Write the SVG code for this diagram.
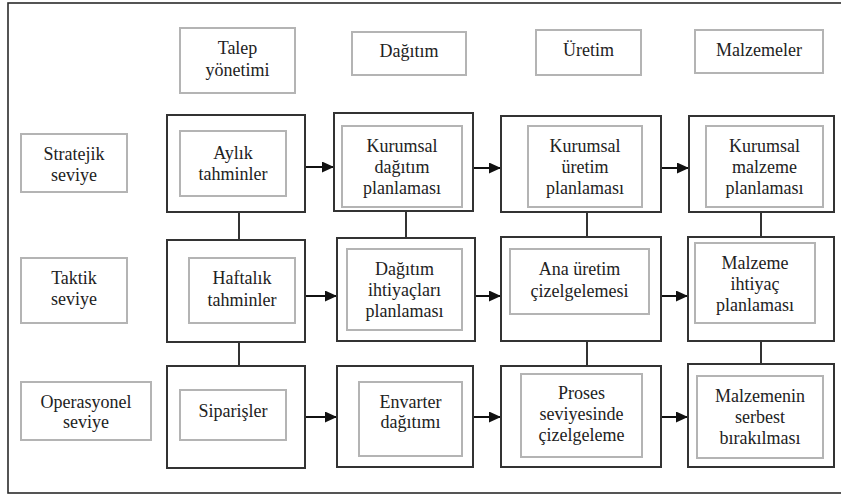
<svg xmlns="http://www.w3.org/2000/svg" width="841" height="496" viewBox="0 0 841 496">
  <style>
    .frame { fill: none; stroke: #2b2b2b; stroke-width: 1.6; }
    .outer { fill: #fff; stroke: #333; stroke-width: 2; }
    .inner { fill: #fff; stroke: #b4b4b4; stroke-width: 2; }
    .label { fill: #fff; stroke: #b4b4b4; stroke-width: 2; }
    .t { font-family: "Liberation Serif", "Times New Roman", "DejaVu Serif", serif; font-size: 18px; fill: #222; text-anchor: middle; }
    .link { stroke: #333; stroke-width: 2; fill: none; }
    .flow { stroke: #111; stroke-width: 2; fill: none; marker-end: url(#head); }
  </style>
  <defs>
    <marker id="head" viewBox="0 0 12 11" refX="12" refY="5.5" markerWidth="12" markerHeight="11" markerUnits="userSpaceOnUse" orient="auto">
      <path d="M0,0 L12,5.5 L0,11 Z" fill="#111"/>
    </marker>
  </defs>

  <rect width="841" height="496" fill="#fff"/>
  <!-- surrounding frame, open to the right -->
  <rect class="frame" x="8" y="3" width="860" height="490"/>

  <!-- column headers -->
  <g id="hdr-talep" class="t" font-family="Liberation Serif, serif">
    <rect class="label" x="180" y="28" width="115" height="65"/>
    <text x="237.5" y="54">Talep</text>
    <text x="237.5" y="76">yönetimi</text>
  </g>
  <g id="hdr-dagitim" class="t" font-family="Liberation Serif, serif">
    <rect class="label" x="352" y="32" width="114" height="43"/>
    <text x="409" y="57">Dağıtım</text>
  </g>
  <g id="hdr-uretim" class="t" font-family="Liberation Serif, serif">
    <rect class="label" x="536" y="30" width="105" height="45"/>
    <text x="588.5" y="56">Üretim</text>
  </g>
  <g id="hdr-malzeme" class="t" font-family="Liberation Serif, serif">
    <rect class="label" x="695" y="30" width="128" height="43"/>
    <text x="759" y="56">Malzemeler</text>
  </g>

  <!-- row headers -->
  <g id="lvl-stratejik" class="t">
    <rect class="label" x="21" y="134" width="106" height="58"/>
    <text x="74" y="160">Stratejik</text>
    <text x="74" y="181">seviye</text>
  </g>
  <g id="lvl-taktik" class="t">
    <rect class="label" x="21" y="258" width="106" height="65"/>
    <text x="74" y="284">Taktik</text>
    <text x="74" y="305">seviye</text>
  </g>
  <g id="lvl-operasyonel" class="t">
    <rect class="label" x="21" y="382" width="130" height="58"/>
    <text x="86" y="408">Operasyonel</text>
    <text x="86" y="428">seviye</text>
  </g>

  <!-- connectors -->
  <g id="connectors">
    <line class="link" x1="239" y1="212" x2="239" y2="240"/>
    <line class="link" x1="239" y1="342" x2="239" y2="366"/>
    <line class="link" x1="406" y1="211" x2="406" y2="238"/>
    <line class="link" x1="587" y1="212" x2="587" y2="237"/>
    <line class="link" x1="587" y1="341" x2="587" y2="366"/>
    <line class="link" x1="761" y1="212" x2="761" y2="237"/>
    <line class="link" x1="761" y1="341" x2="761" y2="364"/>

    <line class="flow" x1="305" y1="167" x2="334" y2="167"/>
    <line class="flow" x1="473" y1="168" x2="501" y2="168"/>
    <line class="flow" x1="661" y1="168" x2="689" y2="168"/>

    <line class="flow" x1="305" y1="296" x2="337" y2="296"/>
    <line class="flow" x1="475" y1="296" x2="501" y2="296"/>
    <line class="flow" x1="661" y1="296" x2="688" y2="296"/>

    <line class="flow" x1="305" y1="417" x2="337" y2="417"/>
    <line class="flow" x1="473" y1="417" x2="501" y2="417"/>
    <line class="flow" x1="661" y1="417" x2="688" y2="417"/>
  </g>

  <!-- strategic row -->
  <g id="aylik" class="t">
    <rect class="outer" x="167" y="115" width="138" height="97"/>
    <rect class="inner" x="180" y="131" width="106" height="65"/>
    <text x="233" y="159">Aylık</text>
    <text x="233" y="180">tahminler</text>
  </g>
  <g id="kurumsal-dagitim" class="t">
    <rect class="outer" x="334" y="113" width="139" height="98"/>
    <rect class="inner" x="342" y="126" width="120" height="81"/>
    <text x="402" y="152">Kurumsal</text>
    <text x="402" y="173">dağıtım</text>
    <text x="402" y="194">planlaması</text>
  </g>
  <g id="kurumsal-uretim" class="t">
    <rect class="outer" x="501" y="116" width="160" height="96"/>
    <rect class="inner" x="528" y="126" width="114" height="81"/>
    <text x="585" y="152">Kurumsal</text>
    <text x="585" y="173">üretim</text>
    <text x="585" y="194">planlaması</text>
  </g>
  <g id="kurumsal-malzeme" class="t">
    <rect class="outer" x="689" y="116" width="145" height="96"/>
    <rect class="inner" x="706" y="126" width="117" height="81"/>
    <text x="764.5" y="152">Kurumsal</text>
    <text x="764.5" y="173">malzeme</text>
    <text x="764.5" y="194">planlaması</text>
  </g>

  <!-- tactical row -->
  <g id="haftalik" class="t">
    <rect class="outer" x="167" y="240" width="138" height="102"/>
    <rect class="inner" x="189" y="258" width="106" height="65"/>
    <text x="242" y="284">Haftalık</text>
    <text x="242" y="306">tahminler</text>
  </g>
  <g id="dagitim-ihtiyac" class="t">
    <rect class="outer" x="337" y="238" width="138" height="103"/>
    <rect class="inner" x="347" y="249" width="115" height="81"/>
    <text x="404.5" y="275">Dağıtım</text>
    <text x="404.5" y="296">ihtiyaçları</text>
    <text x="404.5" y="317">planlaması</text>
  </g>
  <g id="ana-uretim" class="t">
    <rect class="outer" x="501" y="237" width="160" height="104"/>
    <rect class="inner" x="510" y="249" width="139" height="65"/>
    <text x="579.5" y="275">Ana üretim</text>
    <text x="579.5" y="297">çizelgelemesi</text>
  </g>
  <g id="malzeme-ihtiyac" class="t">
    <rect class="outer" x="688" y="237" width="146" height="104"/>
    <rect class="inner" x="695" y="243" width="120" height="80"/>
    <text x="755" y="269">Malzeme</text>
    <text x="755" y="290">ihtiyaç</text>
    <text x="755" y="311">planlaması</text>
  </g>

  <!-- operational row -->
  <g id="siparisler" class="t">
    <rect class="outer" x="167" y="366" width="138" height="102"/>
    <rect class="inner" x="180" y="390" width="106" height="50"/>
    <text x="233" y="417">Siparişler</text>
  </g>
  <g id="envarter" class="t">
    <rect class="outer" x="337" y="366" width="136" height="101"/>
    <rect class="inner" x="359" y="382" width="103" height="74"/>
    <text x="410.5" y="408">Envarter</text>
    <text x="410.5" y="428">dağıtımı</text>
  </g>
  <g id="proses" class="t">
    <rect class="outer" x="501" y="366" width="160" height="101"/>
    <rect class="inner" x="521" y="374" width="121" height="83"/>
    <text x="581.5" y="399">Proses</text>
    <text x="581.5" y="420">seviyesinde</text>
    <text x="581.5" y="441">çizelgeleme</text>
  </g>
  <g id="malzeme-serbest" class="t">
    <rect class="outer" x="688" y="364" width="146" height="103"/>
    <rect class="inner" x="697" y="376" width="126" height="82"/>
    <text x="760" y="402">Malzemenin</text>
    <text x="760" y="423">serbest</text>
    <text x="760" y="444">bırakılması</text>
  </g>
</svg>
